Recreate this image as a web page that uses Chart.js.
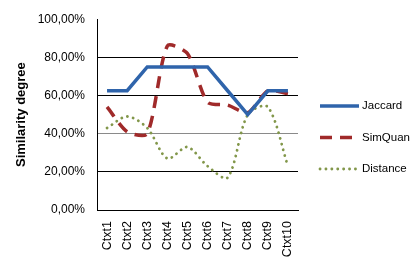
<!DOCTYPE html>
<html>
<head>
<meta charset="utf-8">
<script src="https://cdn.jsdelivr.net/npm/chart.js@4.4.0/dist/chart.umd.min.js"></script>
<style>
    html, body { margin: 0; padding: 0; background: #fff; }
    #wrap { width: 420px; height: 271px; }
</style>
</head>
<body>
<div id="wrap"><canvas id="myChart" width="420" height="271"></canvas></div>
<script>
var labels = ["Ctxt1", "Ctxt2", "Ctxt3", "Ctxt4", "Ctxt5", "Ctxt6", "Ctxt7", "Ctxt8", "Ctxt9", "Ctxt10"];
var jaccard = [62.5, 62.5, 75, 75, 75, 75, 62.5, 50, 62.5, 62.5];
var simQuan = [54, 41, 40, 86, 82, 56.5, 55, 51, 62.5, 61];
var distance = [43, 49, 43, 27, 33, 23, 17, 50, 54, 23];
var yTicks = [0, 20, 40, 60, 80, 100];

var fontName = "'Liberation Sans', Arial, sans-serif";

function formatPct(v) {
    return v.toFixed(2).replace(".", ",") + "%";
}

// legend drawn on the right, Excel style
var sideLegend = {
    id: "sideLegend",
    afterDraw: function(chart) {
        var ctx = chart.ctx;
        var x0 = 320, x1 = 359;
        var startY = 106, step = 31.5;
        ctx.save();
        chart.data.datasets.forEach(function(ds, i) {
            var y = startY + i * step;
            ctx.beginPath();
            ctx.strokeStyle = ds.borderColor;
            ctx.lineWidth = ds.borderWidth;
            ctx.lineCap = ds.borderCapStyle || "butt";
            ctx.setLineDash(ds.borderDash || []);
            ctx.moveTo(x0, y);
            ctx.lineTo(x1, y);
            ctx.stroke();
            ctx.setLineDash([]);
            ctx.fillStyle = "#000";
            ctx.font = "11.5px " + fontName;
            ctx.textBaseline = "middle";
            ctx.textAlign = "left";
            ctx.fillText(ds.label, 362, y);
        });
        ctx.restore();
    }
};

var ctx = document.getElementById("myChart");
var myChart = new Chart(ctx, {
    type: "line",
    data: {
        labels: labels,
        datasets: [
            {
                label: "Jaccard",
                data: jaccard,
                borderColor: "#2f64ab",
                borderWidth: 3.5,
                tension: 0,
                pointRadius: 0
            },
            {
                label: "SimQuan",
                data: simQuan,
                borderColor: "#a02a2a",
                borderWidth: 3.5,
                borderDash: [12, 8],
                tension: 0.25,
                pointRadius: 0
            },
            {
                label: "Distance",
                data: distance,
                borderColor: "#82974a",
                borderWidth: 2.8,
                borderDash: [0.1, 5.8],
                borderCapStyle: "round",
                tension: 0.3,
                pointRadius: 0
            }
        ]
    },
    options: {
        responsive: false,
        animation: false,
        layout: { padding: { top: 15, right: 122, left: 0, bottom: 0 } },
        plugins: {
            legend: { display: false },
            tooltip: { enabled: false }
        },
        scales: {
            x: {
                offset: true,
                grid: { display: false, drawTicks: false },
                border: { color: "#000", width: 1 },
                ticks: {
                    minRotation: 90,
                    maxRotation: 90,
                    padding: 11,
                    color: "#000",
                    font: { family: fontName, size: 12.5 }
                },
                afterFit: function(s) { s.height = 61; }
            },
            y: {
                min: 0,
                max: 100,
                afterBuildTicks: function(s) {
                    s.ticks = yTicks.map(function(v) { return { value: v }; });
                },
                grid: {
                    drawTicks: false,
                    color: function(c) {
                        if (c.tick.value === 100) return "rgba(0,0,0,0)";
                        if (c.tick.value === 40) return "#8a8a8a";
                        return "#000";
                    },
                    lineWidth: 1
                },
                border: { color: "#000", width: 1 },
                ticks: {
                    padding: 12,
                    color: "#000",
                    font: { family: fontName, size: 12 },
                    callback: function(v) { return formatPct(v); }
                },
                title: {
                    display: true,
                    text: "Similarity degree",
                    color: "#000",
                    font: { family: fontName, size: 13, weight: "bold" },
                    padding: { top: 14, bottom: 0 }
                },
                afterFit: function(s) { s.width = 97; }
            }
        }
    },
    plugins: [sideLegend]
});
</script>
</body>
</html>
